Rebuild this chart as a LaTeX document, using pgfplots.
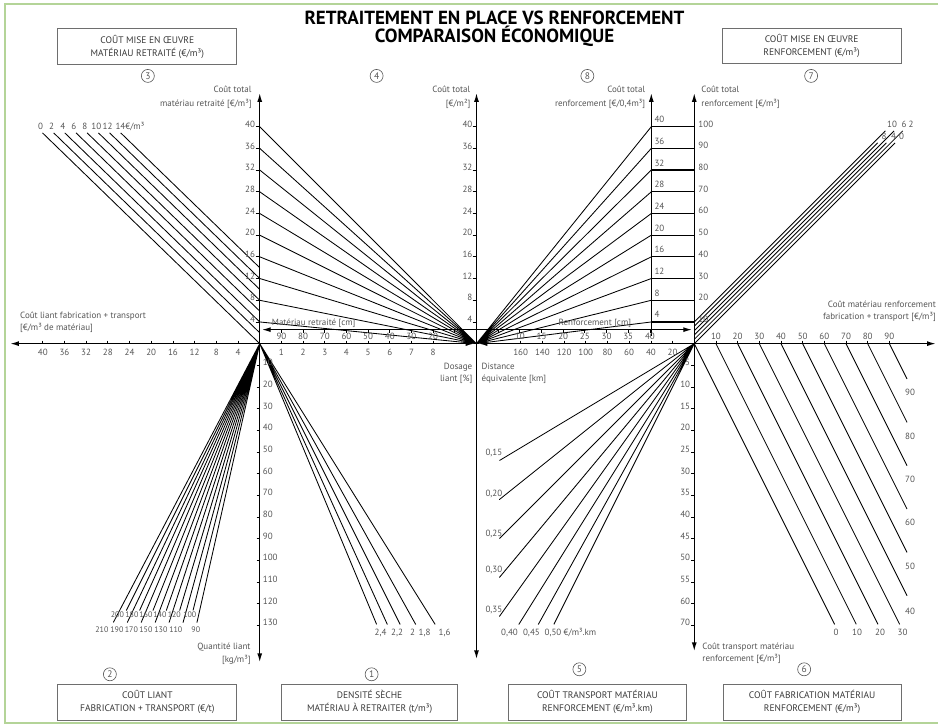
\documentclass[border=0pt]{standalone}
\usepackage{fontspec}
\setmainfont{PT Sans}
\usepackage{pgfplots}
\pgfplotsset{compat=1.18}
\usetikzlibrary{arrows.meta}

\definecolor{txt}{RGB}{85,85,85}
\definecolor{cadre}{RGB}{180,212,152}
\definecolor{boite}{RGB}{110,110,110}

\tikzset{
  lab/.style={font=\fontsize{9}{10}\selectfont,text=txt,inner sep=0pt},
  nomo/.style={black,line width=0.85pt,line join=round},
  axe/.style={black,line width=1.4pt},
  tck/.style={black,line width=0.8pt},
  fl/.style={arrows={Latex[length=9pt,width=5pt]-Latex[length=9pt,width=5pt]}},
  fh/.style={arrows={-Latex[length=9pt,width=5pt]}},
}
\newcommand\lb[3]{\node[lab,anchor=base] at (#1,#2) {#3};}
\newcommand\ls[3]{\node[lab,anchor=base,font=\fontsize{8}{9}\selectfont] at (#1,#2) {#3};}
\newcommand\lbe[3]{\node[lab,anchor=base east] at (#1,#2) {#3};}
\newcommand\lbw[3]{\node[lab,anchor=base west] at (#1,#2) {#3};}
\newcommand\rond[3]{\node[draw=txt,circle,line width=0.6pt,inner sep=0pt,minimum size=13pt,text=txt,font=\fontsize{9.5}{10}\selectfont] at (#1,#2) {#3};}
\newcommand\boite[7]{%
  \draw[boite,line width=0.9pt] (#1,#2) rectangle (#3,#4);
  \node[align=center,font=\fontsize{9.5}{13}\selectfont,text=black!78] at (#5,#6) {#7};}

\begin{document}
\begin{tikzpicture}
\begin{axis}[
  x=1pt, y=1pt, y dir=reverse,
  xmin=0, xmax=939, ymin=0, ymax=726,
  hide axis, clip=false,
  unbounded coords=jump,
]
\path (0,0) rectangle (939,726);
\draw[cadre,line width=2pt] (939,4.5) -- (5,4.5) -- (5,724) -- (939,724);

% titre
\node[font=\fontsize{19}{20}\selectfont\bfseries,anchor=base] at (495,25) {RETRAITEMENT EN PLACE VS RENFORCEMENT};
\node[font=\fontsize{19}{20}\selectfont\bfseries,anchor=base] at (495,43) {COMPARAISON ÉCONOMIQUE};

% cadres
\boite{58}{28}{237}{65}{147.5}{46.5}{COÛT MISE EN ŒUVRE\\MATÉRIAU RETRAITÉ (€/m³)}
\boite{723}{28}{902}{64}{812.5}{46}{COÛT MISE EN ŒUVRE\\RENFORCEMENT (€/m³)}
\boite{58}{685}{237}{721}{147.5}{703}{COÛT LIANT\\FABRICATION + TRANSPORT (€/t)}
\boite{282}{685}{458}{721}{370}{703}{DENSITÉ SÈCHE\\MATÉRIAU À RETRAITER (t/m³)}
\boite{509}{685}{687}{721}{598}{703}{COÛT TRANSPORT MATÉRIAU\\RENFORCEMENT (€/m³.km)}
\boite{724}{685}{902}{721}{813}{703}{COÛT FABRICATION MATÉRIAU\\RENFORCEMENT (€/m³)}

\rond{148}{76}{3}
\rond{377}{76}{4}
\rond{588}{76}{8}
\rond{812}{76}{7}
\rond{110}{675}{2}
\rond{372}{675}{1}
\rond{580}{670}{5}
\rond{805}{670}{6}

% quadrant 3 : mise en oeuvre retraite
\addplot[nomo] coordinates {
 (42.5,133) (260,344) (nan,nan) (53.7,133) (260,333.1) (nan,nan)
 (64.8,133) (260,322.3) (nan,nan) (76.1,133) (260,311.4) (nan,nan)
 (87.2,133) (260,300.6) (nan,nan) (98.5,133) (260,289.7) (nan,nan)
 (109.7,133) (260,278.8) (nan,nan) (120.8,133) (260,268.0)};
% quadrant 4 : materiau retraite
\addplot[nomo] coordinates {
 (260,322.3) (477,344) (260,300.6) (477,344) (260,278.8) (477,344)
 (260,257.1) (477,344) (260,235.4) (477,344) (260,213.7) (477,344)
 (260,192.0) (477,344) (260,170.2) (477,344) (260,148.5) (477,344) (260,126.8)};
% quadrant 8 : renforcement
\addplot[nomo] coordinates {
 (652,322.3) (477,344) (652,300.6) (477,344) (652,278.8) (477,344)
 (652,257.1) (477,344) (652,235.4) (477,344) (652,213.7) (477,344)
 (652,192.0) (477,344) (652,170.2) (477,344) (652,148.5) (477,344) (652,126.8)};
\addplot[black,line width=1.2pt] coordinates {
 (652,322.3) (695,322.3) (nan,nan) (652,300.6) (695,300.6) (nan,nan)
 (652,278.8) (695,278.8) (nan,nan) (652,257.1) (695,257.1) (nan,nan)
 (652,235.4) (695,235.4) (nan,nan) (652,213.7) (695,213.7) (nan,nan)
 (652,192.0) (695,192.0) (nan,nan) (652,170.2) (695,170.2) (nan,nan)
 (652,148.5) (695,148.5) (nan,nan) (652,126.8) (695,126.8)};
% quadrant 7 : mise en oeuvre renforcement
\addplot[nomo] coordinates {
 (695,344) (896,143) (nan,nan) (695,339.7) (903.7,131) (nan,nan)
 (695,335.3) (887.3,143) (nan,nan) (695,331.0) (895,131) (nan,nan)
 (695,326.6) (878.6,143) (nan,nan) (695,322.3) (886.3,131)};
% quadrant 2 : cout liant
\addplot[nomo] coordinates {
 (193.3,611) (260,344) (179.9,611) (260,344) (166.5,611) (260,344)
 (153.2,611) (260,344) (139.8,611) (260,344) (126.5,611) (260,344)
 (197.2,623) (260,344) (183.3,623) (260,344) (169.3,623) (260,344)
 (155.4,623) (260,344) (141.4,623) (260,344) (127.5,623) (260,344) (113.5,623)};
% quadrant 1 : densite
\addplot[nomo] coordinates {
 (377,625) (260,344) (387.7,625) (260,344) (400.5,625) (260,344)
 (416.1,625) (260,344) (435.6,625)};
% quadrant 5 : transport
\addplot[nomo] coordinates {
 (500,461) (695,344) (500,500) (695,344) (500,539) (695,344)
 (500,578) (695,344) (500,617) (695,344) (519.4,625) (695,344)
 (538.9,625) (695,344) (554.5,625)};
% quadrant 6 : fabrication
\addplot[nomo] coordinates {
 (695,344) (835.5,625) (nan,nan) (716.7,344) (857.2,625) (nan,nan)
 (738.4,344) (878.9,625) (nan,nan) (760.1,344) (900.6,625) (nan,nan)
 (781.8,344) (908,596.4) (nan,nan) (803.5,344) (908,553) (nan,nan)
 (825.2,344) (908,509.6) (nan,nan) (846.9,344) (908,466.2) (nan,nan)
 (868.6,344) (908,422.8) (nan,nan) (890.3,344) (908,379.4)};

% axes
\draw[axe,fl] (260,663) -- (260,93);
\draw[axe,fl] (477,660) -- (477,93);
\draw[axe,fh] (652,336) -- (652,93);
\draw[axe,fl] (695,652) -- (695,93);
\draw[axe,fl] (10,344) -- (475,344);
\draw[axe,fl] (479,344) -- (937,344);
\draw[axe,fl] (262,330) -- (693,330);

% graduations
\pgfplotsinvokeforeach{322.3,300.6,278.8,257.1,235.4,213.7,192.0,170.2,148.5,126.8}{
  \addplot[tck] coordinates {(256,#1) (260,#1) (nan,nan) (473,#1) (477,#1)};}
\pgfplotsinvokeforeach{365.7,387.4,409.1,430.8,452.5,474.2,495.9,517.6,539.3,561.0,582.7,604.4,626.1}{
  \addplot[tck] coordinates {(257,#1) (260,#1) (nan,nan) (692,#1) (695,#1)};}
\pgfplotsinvokeforeach{42.8,64.5,86.2,108.0,129.7,151.4,173.1,194.8,216.6,238.3,281.7,303.4,325.1,346.8,368.5,390.2,411.9,433.6,521.2,543.0,564.7,586.4,608.1,629.8,651.6,673.3,716.7,738.4,760.1,781.8,803.5,825.2,846.9,868.6,890.3}{
  \addplot[tck] coordinates {(#1,341) (#1,344)};}
\pgfplotsinvokeforeach{281.7,303.4,325.1,346.8,368.5,390.2,411.9,433.6,455.3,498.7,520.4,542.1,563.8,585.5,607.2,628.9,650.6}{
  \addplot[tck] coordinates {(#1,330) (#1,333)};}

% etiquettes des axes verticaux hauts
\lbe{255.5}{127.5}{40}\lbe{255.5}{149.2}{36}\lbe{255.5}{170.9}{32}\lbe{255.5}{192.7}{28}\lbe{255.5}{214.4}{24}
\lbe{255.5}{236.1}{20}\lbe{255.5}{257.8}{16}\lbe{255.5}{279.5}{12}\lbe{255.5}{301.3}{8}\lbe{255.5}{323.0}{4}
\lbe{473}{127.5}{40}\lbe{473}{149.2}{36}\lbe{473}{170.9}{32}\lbe{473}{192.7}{28}\lbe{473}{214.4}{24}
\lbe{473}{236.1}{20}\lbe{473}{257.8}{16}\lbe{473}{279.5}{12}\lbe{473}{301.3}{8}\lbe{473}{323.0}{4}
\lbw{655}{122.8}{40}\lbw{655}{144.5}{36}\lbw{655}{166.2}{32}\lbw{655}{188.0}{28}\lbw{655}{209.7}{24}
\lbw{655}{231.4}{20}\lbw{655}{253.1}{16}\lbw{655}{274.8}{12}\lbw{655}{296.6}{8}\lbw{655}{318.3}{4}
\lbw{699}{127.3}{100}\lbw{699}{149.0}{90}\lbw{699}{170.7}{80}\lbw{699}{192.5}{70}\lbw{699}{214.2}{60}
\lbw{699}{235.9}{50}\lbw{699}{257.6}{40}\lbw{699}{279.3}{30}\lbw{699}{301.1}{20}\lbw{699}{322.8}{10}

% etiquettes des axes verticaux bas
\lbw{263}{366.2}{10}\lbw{263}{387.9}{20}\lbw{263}{409.6}{30}\lbw{263}{431.3}{40}\lbw{263}{453.0}{50}
\lbw{263}{474.7}{60}\lbw{263}{496.4}{70}\lbw{263}{518.1}{80}\lbw{263}{539.8}{90}\lbw{263}{561.5}{100}
\lbw{263}{583.2}{110}\lbw{263}{604.9}{120}\lbw{263}{626.6}{130}
\lbe{691}{366.2}{5}\lbe{691}{387.9}{10}\lbe{691}{409.6}{15}\lbe{691}{431.3}{20}\lbe{691}{453.0}{25}
\lbe{691}{474.7}{30}\lbe{691}{496.4}{35}\lbe{691}{518.1}{40}\lbe{691}{539.8}{45}\lbe{691}{561.5}{50}
\lbe{691}{583.2}{55}\lbe{691}{604.9}{60}\lbe{691}{626.6}{70}

% etiquettes horizontales
\lb{42.8}{355.5}{40}\lb{64.5}{355.5}{36}\lb{86.2}{355.5}{32}\lb{108.0}{355.5}{28}\lb{129.7}{355.5}{24}
\lb{151.4}{355.5}{20}\lb{173.1}{355.5}{16}\lb{194.8}{355.5}{12}\lb{216.6}{355.5}{8}\lb{238.3}{355.5}{4}
\lb{281.7}{355.5}{1}\lb{303.4}{355.5}{2}\lb{325.1}{355.5}{3}\lb{346.8}{355.5}{4}\lb{368.5}{355.5}{5}
\lb{390.2}{355.5}{6}\lb{411.9}{355.5}{7}\lb{433.6}{355.5}{8}
\lb{521.2}{355.5}{160}\lb{543.0}{355.5}{140}\lb{564.7}{355.5}{120}\lb{586.4}{355.5}{100}\lb{608.1}{355.5}{80}
\lb{629.8}{355.5}{60}\lb{651.6}{355.5}{40}\lb{673.3}{355.5}{20}
\lb{281.7}{340.3}{90}\lb{303.4}{340.3}{80}\lb{325.1}{340.3}{70}\lb{346.8}{340.3}{60}\lb{368.5}{340.3}{50}
\lb{390.2}{340.3}{40}\lb{411.9}{340.3}{30}\lb{433.6}{340.3}{20}
\lb{520.4}{340.3}{10}\lb{542.1}{340.3}{15}\lb{563.8}{340.3}{20}\lb{585.5}{340.3}{25}\lb{607.2}{340.3}{30}
\lb{628.9}{340.3}{35}\lb{650.6}{340.3}{40}
\lb{716.7}{340}{10}\lb{738.4}{340}{20}\lb{760.1}{340}{30}\lb{781.8}{340}{40}\lb{803.5}{340}{50}
\lb{825.2}{340}{60}\lb{846.9}{340}{70}\lb{868.6}{340}{80}\lb{890.3}{340}{90}

% etiquettes des faisceaux
\lb{40.5}{130}{0}\lb{51.7}{130}{2}\lb{62.8}{130}{4}\lb{74}{130}{6}\lb{85}{130}{8}\lb{96.5}{130}{10}\lb{107.7}{130}{12}
\lbw{115.5}{130}{14€/m³}
\lb{893}{128}{10}\lb{905}{128}{6}\lb{912}{128}{2}
\lb{885}{140}{8}\lb{894.5}{140}{4}\lb{902.5}{140}{0}
\ls{117.5}{618}{200}\ls{132}{618}{180}\ls{146}{618}{160}\ls{160}{618}{140}\ls{174.5}{618}{120}\ls{190}{618}{100}
\ls{102}{633}{210}\ls{117}{633}{190}\ls{131.5}{633}{170}\ls{146}{633}{150}\ls{161}{633}{130}\ls{176}{633}{110}\ls{196}{633}{90}
\lb{381}{636}{2,4}\lb{397.5}{636}{2,2}\lb{413}{636}{2}\lb{425}{636}{1,8}\lb{445}{636}{1,6}
\lbe{503}{456}{0,15}\lbe{503}{497}{0,20}\lbe{503}{537}{0,25}\lbe{503}{573}{0,30}\lbe{503}{613}{0,35}
\lb{510}{636}{0,40}\lb{532}{636}{0,45}\lbw{545}{636}{0,50 €/m³.km}
\lb{837}{636}{0}\lb{858}{636}{10}\lb{881}{636}{20}\lb{903.5}{636}{30}
\lb{911}{396}{90}\lb{911}{440}{80}\lb{911}{483}{70}\lb{911}{526}{60}\lb{911}{570}{50}\lb{911}{615}{40}

% titres des axes
\lbe{252}{93}{Coût total}\lbe{252}{106.5}{matériau retraité [€/m³]}
\lbe{471}{93}{Coût total}\lbe{471}{106.5}{[€/m²]}
\lbe{646}{93}{Coût total}\lbe{646}{106.5}{renforcement [€/0,4m³]}
\lbw{702}{93}{Coût total}\lbw{702}{106.5}{renforcement [€/m³]}
\lbw{20}{319}{Coût liant fabrication + transport}\lbw{20}{330.5}{[€/m³ de matériau]}
\lbw{272}{326}{Matériau retraité [cm]}
\lbw{559}{326}{Renforcement [cm]}
\lbe{473}{370}{Dosage}\lbe{473}{382}{liant [\%]}
\lbw{482}{370}{Distance}\lbw{482}{382}{équivalente [km]}
\lbe{937}{308}{Coût matériau renforcement}\lbe{937}{320}{fabrication + transport [€/m³]}
\lbe{251}{650}{Quantité liant}\lbe{251}{663}{[kg/m³]}
\lbw{703}{650}{Coût transport matériau}\lbw{703}{662}{renforcement [€/m³]}
\end{axis}
\end{tikzpicture}
\end{document}
